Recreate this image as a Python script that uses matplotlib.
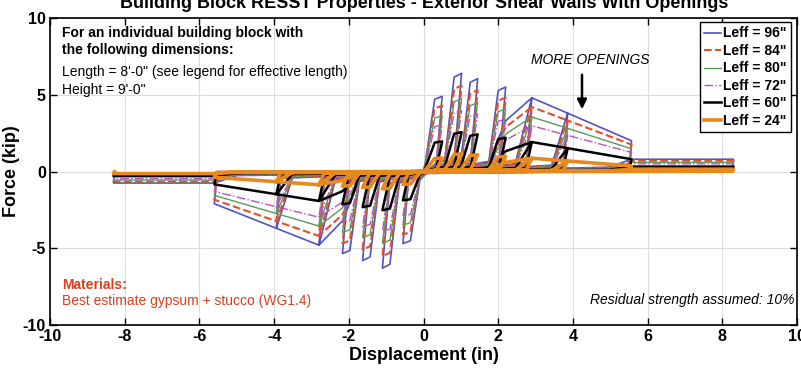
import matplotlib
matplotlib.use("Agg")
import matplotlib.pyplot as plt
import numpy as np

plt.rcParams['font.family'] = ['Liberation Sans', 'DejaVu Sans']

# ---- data (Leff = 96" is the base series) ----
pos_disp = [0.5, 1.02, 1.45, 2.2, 2.9, 3.86, 5.57, 8.3]
pos_force = [4.9, 6.4, 6.05, 5.5, 4.8, 3.8, 2.0, 0.8]
neg_disp = [-0.55, -1.1, -1.63, -2.17, -2.8, -3.94, -5.6, -8.3]
neg_force = [-4.7, -6.3, -5.8, -5.35, -4.8, -3.7, -2.1, -0.75]

series_labels = ['Leff = 96"', 'Leff = 84"', 'Leff = 80"', 'Leff = 72"', 'Leff = 60"', 'Leff = 24"']
series_scale = [1.0, 0.875, 0.74, 0.62, 0.40, 0.18]
series_colors = ['#5252c0', '#e0502a', '#5a9a5a', '#c050c0', '#000000', '#e8891e']
series_styles = ['-', '--', '-', '-.', '-', '-']
series_widths = [1.2, 1.5, 1.0, 1.0, 1.8, 2.6]

x_ticks = [-10, -8, -6, -4, -2, 0, 2, 4, 6, 8, 10]
y_ticks = [-10, -5, 0, 5, 10]

K_UNLOAD = 28.0


def half_cycle(xs, fs, i, d_arr, f_arr, scale):
    """Append one half cycle (reload, peak, unload) of the pinched loop."""
    d, F = d_arr[i], f_arr[i] * scale
    sgn = 1.0 if d > 0 else -1.0
    n = len(d_arr)
    if i == n - 1:
        # residual cycle: reload onto residual plateau, run out to max drift
        prev = d_arr[i - 1]
        xs += [prev - sgn * 0.6, prev, d]
        fs += [0.35 * F, F, F]
    elif i >= 4:
        # large cycles: reload to previous peak, then follow the envelope
        prev = d_arr[i - 1]
        fac = 0.6 if i == 4 else 1.0
        xs += [prev - sgn * 0.45, prev, d]
        fs += [0.12 * F, fac * f_arr[i - 1] * scale, F]
    else:
        # spike cycles
        xs += [d - sgn * 0.45, d - sgn * 0.2, d]
        fs += [0.12 * F, 0.96 * F, F]
    xs.append(d - 0.88 * F / (K_UNLOAD * scale))
    fs.append(0.12 * F)


def hysteresis_path(scale):
    xs, fs = [0.0], [0.0]
    for i in range(len(pos_disp)):
        half_cycle(xs, fs, i, pos_disp, pos_force, scale)
        half_cycle(xs, fs, i, neg_disp, neg_force, scale)
    return np.array(xs), np.array(fs)


fig = plt.figure(figsize=(8.01, 3.81), dpi=100)
ax = fig.add_axes([50 / 801, 56 / 381, 747 / 801, 307 / 381])

for lab, sc, col, ls, lw in zip(series_labels, series_scale, series_colors,
                                series_styles, series_widths):
    x, f = hysteresis_path(sc)
    ax.plot(x, f, color=col, linestyle=ls, linewidth=lw, label=lab)

ax.set_xlim(-10, 10)
ax.set_ylim(-10, 10)
ax.set_xticks(x_ticks)
ax.set_yticks(y_ticks)
ax.set_xticklabels([str(t) for t in x_ticks], fontweight='bold', fontsize=11.5)
ax.set_yticklabels([str(t) for t in y_ticks], fontweight='bold', fontsize=11.5)
ax.tick_params(direction='in', top=True, right=True, length=5, width=1, pad=3)
ax.grid(True, color='#dcdcdc', linewidth=0.8)
ax.set_axisbelow(True)
for sp in ax.spines.values():
    sp.set_linewidth(1.2)

ax.set_xlabel('Displacement (in)', fontweight='bold', fontsize=13, labelpad=2)
ax.set_ylabel('Force (kip)', fontweight='bold', fontsize=13, labelpad=2)

fig.text(424 / 801, 1 - 3 / 381, 'Building Block RESST Properties - Exterior Shear Walls With Openings',
         ha='center', va='center', fontweight='bold', fontsize=13)

leg = ax.legend(loc='upper right', bbox_to_anchor=(0.992, 0.986), borderaxespad=0,
                prop={'weight': 'bold', 'size': 10}, handlelength=1.2, handletextpad=0.2,
                labelspacing=0.25, fancybox=False, edgecolor='black', framealpha=1,
                borderpad=0.3)
leg.get_frame().set_linewidth(1.0)

fig.text(62 / 801, 1 - 33 / 381, 'For an individual building block with',
         ha='left', va='center', fontweight='bold', fontsize=10)
fig.text(62 / 801, 1 - 50 / 381, 'the following dimensions:',
         ha='left', va='center', fontweight='bold', fontsize=10)
fig.text(62 / 801, 1 - 72 / 381, 'Length = 8\'-0" (see legend for effective length)',
         ha='left', va='center', fontsize=10)
fig.text(62 / 801, 1 - 90 / 381, 'Height = 9\'-0"',
         ha='left', va='center', fontsize=10)

fig.text(590 / 801, 1 - 60 / 381, 'MORE OPENINGS', ha='center', va='center',
         fontstyle='italic', fontsize=10)
ax.annotate('', xy=(582 / 801, 1 - 112 / 381), xytext=(582 / 801, 1 - 72 / 381),
            xycoords='figure fraction', textcoords='figure fraction',
            arrowprops=dict(arrowstyle='-|>', color='black', lw=1.8, mutation_scale=14))

fig.text(62 / 801, 1 - 285 / 381, 'Materials:', ha='left', va='center',
         fontweight='bold', fontsize=10, color='#d8401e')
fig.text(62 / 801, 1 - 301 / 381, 'Best estimate gypsum + stucco (WG1.4)', ha='left',
         va='center', fontsize=10, color='#d8401e')
fig.text(795 / 801, 1 - 300 / 381, 'Residual strength assumed: 10%', ha='right',
         va='center', fontstyle='italic', fontsize=10)

fig.savefig('out.png', dpi=100)
